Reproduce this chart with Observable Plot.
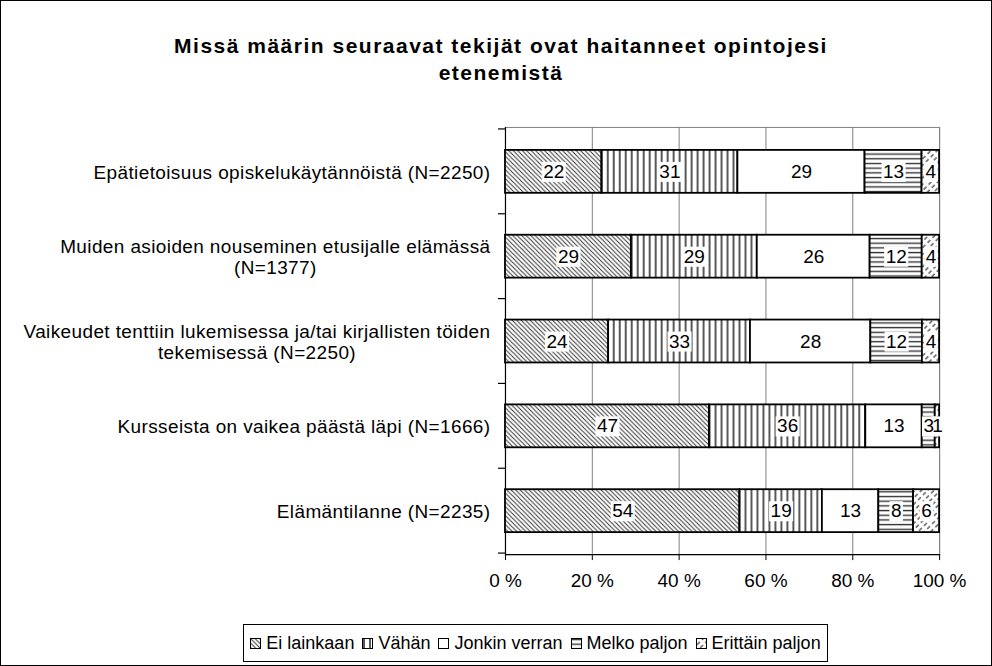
<!DOCTYPE html>
<html><head><meta charset="utf-8">
<script src="https://cdn.jsdelivr.net/npm/d3@7"></script>
<script src="https://cdn.jsdelivr.net/npm/@observablehq/plot@0.6"></script>
<style>
body{margin:0;background:#fff;}
#frame{position:relative;width:990px;height:664px;border:1px solid #000;font-family:"Liberation Sans",Arial,sans-serif;overflow:hidden;background:#fff;}
#title{position:absolute;left:4px;top:31px;width:992px;text-align:center;font-weight:bold;font-size:21px;letter-spacing:1.5px;line-height:27px;}
#chart{position:absolute;left:0;top:100px;}
#legend{position:absolute;left:242px;top:623px;width:583px;height:36px;border:1px solid #000;display:flex;align-items:center;justify-content:center;font-size:18px;color:#000;}
#legend .item{display:flex;align-items:center;margin:0 4px;}
#legend svg{margin-right:5px;}
</style>
</head><body>
<svg width="0" height="0" style="position:absolute">
<defs>
<pattern id="pEi" patternUnits="userSpaceOnUse" width="4.5" height="4.5">
<rect width="4.5" height="4.5" fill="#fff"/>
<path d="M-1,3.5 L1,5.5 M0,0 L4.5,4.5 M3.5,-1 L5.5,1" stroke="#333" stroke-width="1"/>
</pattern>
<pattern id="pVahan" patternUnits="userSpaceOnUse" width="6" height="6">
<rect width="6" height="6" fill="#fff"/>
<path d="M2,0 L2,6" stroke="#111" stroke-width="1.4"/>
</pattern>
<pattern id="pJonkin" patternUnits="userSpaceOnUse" width="5" height="5">
<rect width="5" height="5" fill="#fff"/>
</pattern>
<pattern id="pMelko" patternUnits="userSpaceOnUse" width="6" height="4.7">
<rect width="6" height="4.7" fill="#fff"/>
<path d="M0,1.5 L6,1.5" stroke="#333" stroke-width="1.4"/>
</pattern>
<pattern id="pErittain" patternUnits="userSpaceOnUse" width="4.5" height="7" patternTransform="rotate(45)">
<rect width="4.5" height="7" fill="#fff"/>
<path d="M1,0 L1,4" stroke="#555" stroke-width="1.4"/>
</pattern>
</defs>
</svg>
<div id="frame">
<div id="title">Missä määrin seuraavat tekijät ovat haitanneet opintojesi<br>etenemistä</div>
<div id="chart"></div>
<div id="legend"></div>
</div>
<script>
const categories = [
  "Epätietoisuus opiskelukäytännöistä (N=2250)",
  "Muiden asioiden nouseminen etusijalle elämässä\n(N=1377)",
  "Vaikeudet tenttiin lukemisessa ja/tai kirjallisten töiden\ntekemisessä (N=2250)",
  "Kursseista on vaikea päästä läpi (N=1666)",
  "Elämäntilanne (N=2235)"
];
const series = ["Ei lainkaan", "Vähän", "Jonkin verran", "Melko paljon", "Erittäin paljon"];
const eiLainkaan = [22, 29, 24, 47, 54];
const vahan = [31, 29, 33, 36, 19];
const jonkinVerran = [29, 26, 28, 13, 13];
const melkoPaljon = [13, 12, 12, 3, 8];
const erittainPaljon = [4, 4, 4, 1, 6];
const xTicks = [0, 0.2, 0.4, 0.6, 0.8, 1];
const xTickLabels = ["0 %", "20 %", "40 %", "60 %", "80 %", "100 %"];
const patternIds = ["pEi", "pVahan", "pJonkin", "pMelko", "pErittain"];

const seriesValues = [eiLainkaan, vahan, jonkinVerran, melkoPaljon, erittainPaljon];
const data = [];
categories.forEach((c, i) => series.forEach((s, j) => data.push({category: c, series: s, value: seriesValues[j][i]})));

const chart = Plot.plot({
  width: 992, height: 500,
  marginLeft: 505, marginRight: 52, marginTop: 26, marginBottom: 46,
  style: {fontFamily: '"Liberation Sans", Arial, sans-serif', fontSize: "19px", background: "white", color: "black", overflow: "visible"},
  x: {domain: [0, 1], axis: null},
  y: {domain: categories, paddingInner: 0.5, paddingOuter: 0.25, axis: null},
  color: {domain: series, range: patternIds.map(id => `url(#${id})`)},
  marks: [
    Plot.frame({stroke: "#808080"}),
    Plot.ruleX(xTicks.slice(1), {stroke: "#808080", strokeWidth: 1}),
    Plot.frame({anchor: "bottom", stroke: "black", strokeWidth: 1.2}),
    Plot.ruleX([0], {stroke: "black", strokeWidth: 1.2}),
    Plot.axisX({ticks: xTicks, tickFormat: d => xTickLabels[xTicks.indexOf(d)], tickSize: 6, tickPadding: 13, label: null, fontSize: 19}),
    Plot.barX(data, Plot.stackX({x: "value", y: "category", fill: "series", order: series, offset: "normalize", stroke: "black", strokeWidth: 1.8})),
    Plot.text(data, Plot.stackX({x: "value", y: "category", z: "series", text: d => String(d.value), order: series, offset: "normalize", fill: "black", fontSize: 19})),
    Plot.text(categories, {x: 0, y: d => d, text: d => d, textAnchor: "end", dx: -15, lineHeight: 1.12, fill: "black", fontSize: 19})
  ]
});
document.getElementById("chart").appendChild(chart);

const textGroups = Array.from(chart.querySelectorAll('g[aria-label="text"]'));
const segGroup = textGroups[0], catGroup = textGroups[1];

// white boxes behind segment labels
if (segGroup) {
  const texts = Array.from(segGroup.querySelectorAll("text"));
  const boxes = texts.map(t => {
    const b = t.getBBox();
    const r = document.createElementNS("http://www.w3.org/2000/svg", "rect");
    r.setAttribute("x", b.x - 1.5);
    r.setAttribute("y", b.y + 1);
    r.setAttribute("width", b.width + 3);
    r.setAttribute("height", b.height - 1);
    r.setAttribute("fill", "white");
    r.setAttribute("stroke", "none");
    if (t.getAttribute("transform")) r.setAttribute("transform", t.getAttribute("transform"));
    return r;
  });
  boxes.forEach(r => segGroup.insertBefore(r, segGroup.firstChild));
}

// center-align multi-line category labels, letter spacing like the original
if (catGroup) {
  catGroup.querySelectorAll("text").forEach(t => {
    t.setAttribute("letter-spacing", "0.4");
    const spans = Array.from(t.querySelectorAll("tspan"));
    if (spans.length < 2) return;
    const w = Math.max(...spans.map(s => s.getComputedTextLength()));
    t.setAttribute("text-anchor", "middle");
    spans.forEach(s => s.setAttribute("x", -w / 2));
  });
}

// category boundary ticks on the y axis
const ys = chart.scale("y"), xs = chart.scale("x");
const step = ys.step ?? (ys.range[1] - ys.range[0]) / categories.length;
const bw = ys.bandwidth ?? step / 2;
const pad = (step - bw) / 2;
const bounds = categories.map(c => ys.apply(c) - pad).concat([ys.apply(categories[categories.length - 1]) + bw + pad]);
const x0 = xs.apply(0);
d3.select(chart).append("g").selectAll("line").data(bounds).join("line")
  .attr("x1", x0 - 7).attr("x2", x0).attr("y1", d => d).attr("y2", d => d)
  .attr("stroke", "black").attr("stroke-width", 1.2);

// legend
const legend = d3.select("#legend");
series.forEach((s, i) => {
  const item = legend.append("div").attr("class", "item");
  const svg = item.append("svg").attr("width", 11).attr("height", 11);
  svg.append("rect").attr("x", 0.5).attr("y", 0.5).attr("width", 10).attr("height", 10)
    .attr("fill", `url(#${patternIds[i]})`).attr("stroke", "black").attr("stroke-width", 1);
  item.append("span").text(s);
});
</script>
</body></html>
